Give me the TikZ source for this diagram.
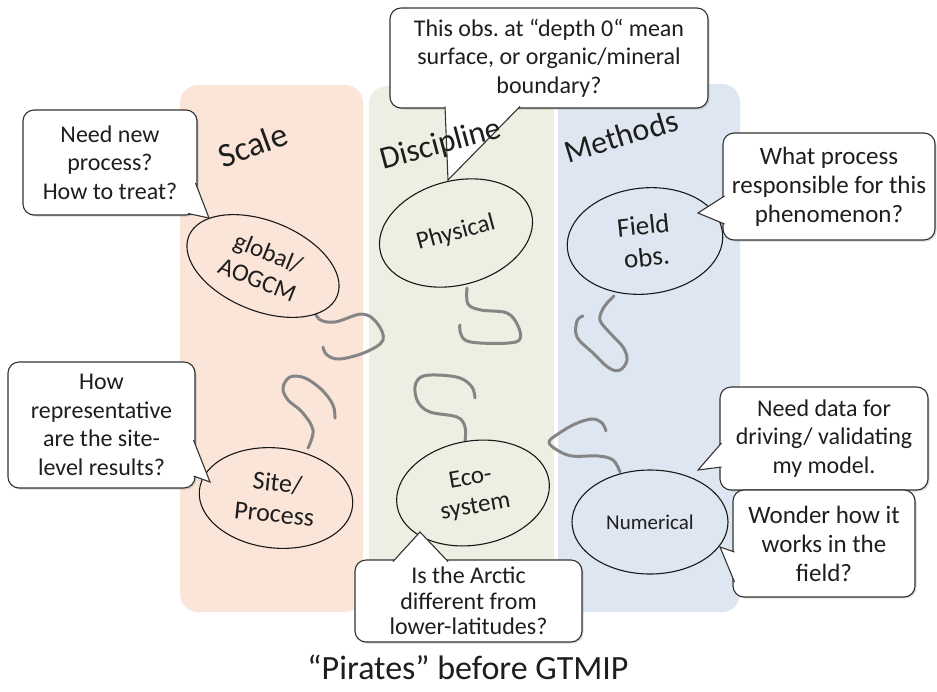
\documentclass[tikz,border=0pt]{standalone}
\usepackage{fontspec}
\setmainfont{Carlito}
\usetikzlibrary{shapes.geometric,shadows}
\definecolor{peach}{HTML}{FAE5D8}
\definecolor{sage}{HTML}{ECEFE2}
\definecolor{sky}{HTML}{DEE6F1}
\definecolor{hook}{HTML}{858585}
\definecolor{ink}{HTML}{1E1E1E}
\frenchspacing
\tikzset{
  column/.style={rounded corners=18pt, inner sep=0pt, draw=none},
  coltitle/.style={font=\fontsize{32}{36}\selectfont, text=ink, inner sep=0pt},
  bubble/.style={ellipse, draw=black!90, line width=1.1pt, inner sep=0pt,
    align=center, text=ink, font=\fontsize{25}{29}\selectfont},
  callout/.style={rectangle, rounded corners=11pt, draw=black!80, line width=1.1pt,
    fill=white, align=center, inner sep=0pt, text=ink,
    font=\fontsize{24}{28.5}\selectfont,
    drop shadow={opacity=0.3, shadow xshift=1.5pt, shadow yshift=-1.5pt}},
  pointerline/.style={draw=black!80, line width=1.1pt, line join=miter},
  hookline/.style={draw=hook, line width=3pt, line cap=round, line join=round},
}
% white wedge joining a callout box to the shape it speaks for
\newcommand\callptr[3]{%
  \fill[white] #1 -- #2 -- #3 -- cycle;
  \draw[pointerline] #1 -- #2 -- #3;}
\begin{document}
\begin{tikzpicture}[x=1pt,y=-1pt]
\useasboundingbox (0,0) rectangle (937,691);
\fill[white] (0,0) rectangle (937,691);

% the three columns
\node[column, fill=peach, minimum width=183pt, minimum height=527pt] (colscale) at (271.5,348.5) {};
\node[column, fill=sage,  minimum width=185pt, minimum height=526pt] (coldisc)  at (461.5,349) {};
\node[column, fill=sky,   minimum width=182pt, minimum height=528pt] (colmeth)  at (649,348) {};

% hooks
\draw[hookline] plot[smooth, tension=0.6] coordinates {(313,306) (319,319) (335,322) (362,314) (377,323) (383,340) (366,352) (340,359) (327,355) (323,347)};
\draw[hookline] plot[smooth, tension=0.6] coordinates {(467,288) (468,304) (481,310) (507,313) (518,326) (520,339) (509,343) (480,343) (465,340) (460,331) (460,325)};
\draw[hookline] plot[smooth, tension=0.6] coordinates {(614,296) (604,307) (600,320) (610,333) (623,347) (627,360) (620,370) (609,368) (593,353) (577,337) (577,321) (583,316)};
\draw[hookline] plot[smooth, tension=0.6] coordinates {(308,448) (313,430) (302,412) (288,400) (283,388) (290,377) (305,378) (322,390) (333,405) (335,418)};
\draw[hookline] plot[smooth, tension=0.6] coordinates {(465,442) (465,427) (457,417) (430,412) (418,402) (415,387) (421,377) (437,375) (460,378) (472,387) (475,398)};
\draw[hookline] plot[smooth, tension=0.6] coordinates {(620,472) (613,460) (598,456) (572,456) (557,450) (549,442) (558,434) (575,424) (592,419) (602,423) (606,431)};

% topics
\node[bubble, fill=peach, minimum width=160pt, minimum height=90pt, rotate=-22, font=\fontsize{25}{29}\selectfont] (glob) at (263,266) {global/\\AOGCM};
\node[bubble, fill=sage,  minimum width=156pt, minimum height=104pt, rotate=15] (phys) at (456,233) {Physical};
\node[bubble, fill=sky,   minimum width=156pt, minimum height=106pt, rotate=6, font=\fontsize{27}{32}\selectfont] (field) at (645,241) {Field\\obs.};
\node[bubble, fill=peach, minimum width=154pt, minimum height=100pt, rotate=-6, font=\fontsize{26}{31}\selectfont] (site) at (276,498) {Site/\\Process};
\node[bubble, fill=sage,  minimum width=154pt, minimum height=104pt, rotate=10] (eco) at (473,493) {Eco-\\system};
\node[bubble, fill=sky,   minimum width=156pt, minimum height=104pt, font=\fontsize{21}{24}\selectfont] (num) at (650,522) {Numerical};

% questions
\node[callout, minimum width=174pt, minimum height=105pt] (needq) at (110,162.5) {Need new\\process?\\How to treat?};
\callptr{(195.5,183)}{(209,218)}{(188,213.5)}
\node[callout, minimum width=187pt, minimum height=126pt] (howq) at (101.5,425) {How\\representative\\are the site-\\level results?};
\callptr{(193.5,440)}{(210,482)}{(193.5,476)}
\node[callout, minimum width=318pt, minimum height=100pt] (depthq) at (549,58) {This obs. at “depth 0“ mean\\surface, or organic/mineral\\boundary?};
\callptr{(445,106.5)}{(448,180)}{(520,106.5)}
\node[callout, minimum width=212pt, minimum height=107pt, font=\fontsize{25}{29}\selectfont] (whatq) at (829,186.5) {What process\\responsible for this\\phenomenon?};
\callptr{(724.5,196)}{(698,213)}{(724.5,224)}
\node[callout, minimum width=208pt, minimum height=103pt] (dataq) at (824,438.5) {Need data for\\driving/ validating\\my model.};
\callptr{(721.5,443)}{(698,470)}{(721.5,467)}
\node[callout, minimum width=182pt, minimum height=107pt, font=\fontsize{25}{29}\selectfont] (wonderq) at (824,543.5) {Wonder how it\\works in the\\field?};
\callptr{(734.5,552)}{(720,547)}{(734.5,582)}
\node[callout, minimum width=227pt, minimum height=82pt, font=\fontsize{24}{25.5}\selectfont] (arcticq) at (468.5,601) {Is the Arctic\\different from\\lower-latitudes?};
\callptr{(393,561.5)}{(420,532)}{(448,561.5)}

% column headings
\node[coltitle, rotate=20, font=\fontsize{34}{38}\selectfont] (tscale) at (253,145) {Scale};
\node[coltitle, rotate=15] (tdisc)  at (441,145) {Discipline};
\node[coltitle, rotate=17] (tmeth)  at (621,136) {Methods};

% caption
\node[font=\fontsize{34}{38}\selectfont, text=ink] (caption) at (468,667) {“Pirates” before GTMIP};
\end{tikzpicture}
\end{document}
